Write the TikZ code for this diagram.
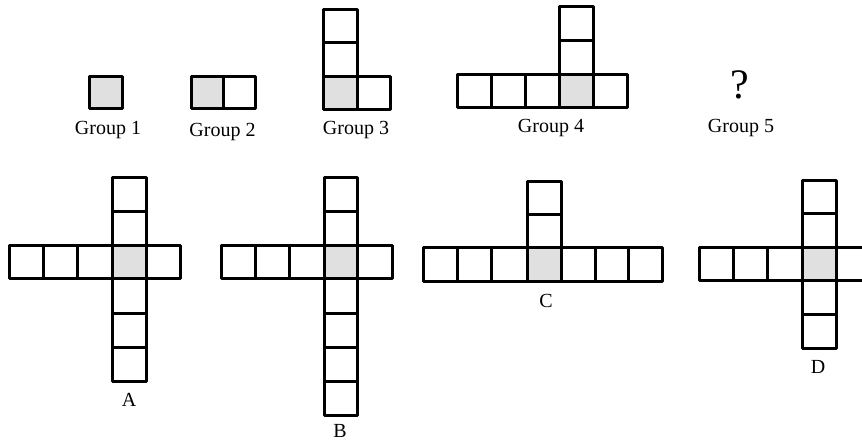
\documentclass[tikz,border=0pt]{standalone}
\usepackage{fontspec}
\setmainfont{Liberation Serif}
\definecolor{cellgray}{HTML}{E0E0E0}
\tikzset{
  cellbox/.style={draw=black, line width=3pt, line join=round, fill=white},
  hub/.style={cellbox, fill=cellgray},
  lbl/.style={anchor=base, inner sep=0pt, font=\fontsize{20}{24}\selectfont}
}
\begin{document}
\begin{tikzpicture}[x=1pt, y=-1pt]
\useasboundingbox (0,0) rectangle (862,441);
\clip (0,0) rectangle (862,441);
% Group 1
\draw[hub] (89,77) rectangle (122,109);
% Group 2
\draw[hub] (191,77) rectangle (223,109);
\draw[cellbox] (223,77) rectangle (255,109);
% Group 3
\foreach \ya/\yb in {10/43,43/77} \draw[cellbox] (323,\ya) rectangle (357,\yb);
\draw[cellbox] (357,77) rectangle (390,110);
\draw[hub] (323,77) rectangle (357,110);
% Group 4
\foreach \xa/\xb in {457/491,491/525,525/559,593/627} \draw[cellbox] (\xa,75) rectangle (\xb,108);
\foreach \ya/\yb in {7/41,41/75} \draw[cellbox] (559,\ya) rectangle (593,\yb);
\draw[hub] (559,75) rectangle (593,108);
% Option A
\foreach \xa/\xb in {9/43,43/77.5,77.5/112,146/180} \draw[cellbox] (\xa,245) rectangle (\xb,278);
\foreach \ya/\yb in {177/211,211/245,278/313,313/347,347/381} \draw[cellbox] (112,\ya) rectangle (146,\yb);
\draw[hub] (112,245) rectangle (146,278);
% Option B
\foreach \xa/\xb in {221/255,255/289.5,289.5/324,357/392} \draw[cellbox] (\xa,245) rectangle (\xb,278);
\foreach \ya/\yb in {177/211,211/245,278/313,313/347,347/381,381/415} \draw[cellbox] (324,\ya) rectangle (357,\yb);
\draw[hub] (324,245) rectangle (357,278);
% Option C
\foreach \xa/\xb in {423/457,457/491,491/527,561/595,595/628,628/662} \draw[cellbox] (\xa,247) rectangle (\xb,281);
\foreach \ya/\yb in {181/214,214/247} \draw[cellbox] (527,\ya) rectangle (561,\yb);
\draw[hub] (527,247) rectangle (561,281);
% Option D
\foreach \xa/\xb in {699/733,733/767.5,767.5/802,836/870} \draw[cellbox] (\xa,247) rectangle (\xb,280);
\foreach \ya/\yb in {180/213,213/247,280/314,314/348} \draw[cellbox] (802,\ya) rectangle (836,\yb);
\draw[hub] (802,247) rectangle (836,280);
% Labels
\node[lbl] (g1) at (108,135) {Group 1};
\node[lbl] (g2) at (222.5,136.5) {Group 2};
\node[lbl] (g3) at (356,135) {Group 3};
\node[lbl] (g4) at (551,133) {Group 4};
\node[lbl] (g5) at (741,133) {Group 5};
\node[lbl, font=\fontsize{42}{46}\selectfont] (q) at (739.5,99) {?};
\node[lbl] (la) at (129,406.5) {A};
\node[lbl] (lb) at (340,437) {B};
\node[lbl] (lc) at (546,307) {C};
\node[lbl] (ld) at (818,373) {D};
\end{tikzpicture}
\end{document}
